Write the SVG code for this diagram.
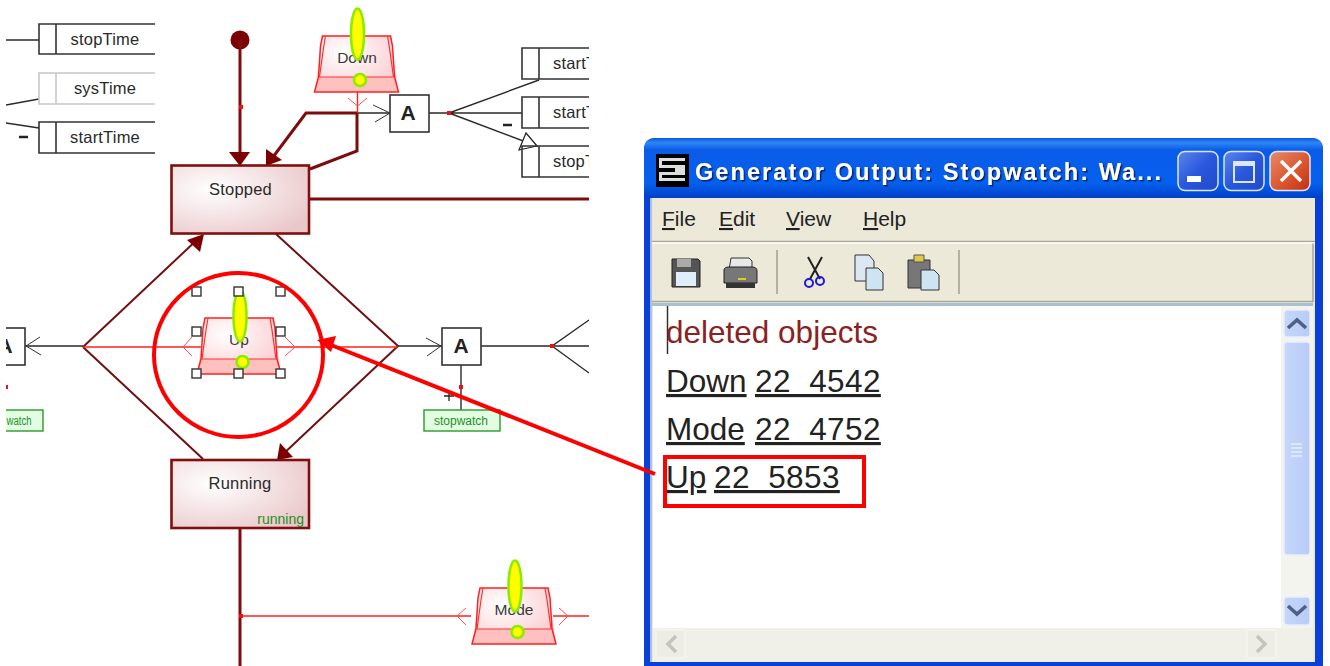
<svg xmlns="http://www.w3.org/2000/svg" width="1330" height="666" viewBox="0 0 1330 666">
<style>
text{font-family:"Liberation Sans",Arial,sans-serif;white-space:pre}
.lbl{font-size:16.5px;fill:#2a2a2a;text-anchor:middle;letter-spacing:.2px}
.tr{font-size:15.5px;fill:#3a3a3a;text-anchor:middle}
.box{fill:none;stroke:#333;stroke-width:1.6}
.gry{fill:none;stroke:#c8c8c8;stroke-width:1.6}
.wire{fill:none;stroke:#2a2a2a;stroke-width:1.4}
.tip{fill:none;stroke:#333;stroke-width:1}
.red{fill:none;stroke:#ff2020;stroke-width:1.4}
.rtip{fill:none;stroke:#ff5050;stroke-width:1}
.dk{fill:none;stroke:#7f0c0c;stroke-width:3}
.dk2{fill:none;stroke:#701010;stroke-width:2}
.head{fill:#7c0000;stroke:none}
.state{fill:url(#st);stroke:#800f0f;stroke-width:2.6}
.a{font-size:21px;font-weight:bold;fill:#222;text-anchor:middle}
.abox{fill:#fff;stroke:#333;stroke-width:1.6}
.tag{fill:#e2fde2;stroke:#2a9a2a;stroke-width:1.4}
.tagt{font-size:12px;fill:#1f8f1f;text-anchor:middle}
.hd{fill:#fff;stroke:#333;stroke-width:1.4}
.menu{font-size:21px;fill:#222}
.out{font-size:31.5px;fill:#222}
.num{letter-spacing:.4px}
.u{text-decoration:underline}
.sb{fill:url(#sb);stroke:#e8eefc;stroke-width:1.5}
.ch{fill:none;stroke:#4d6185;stroke-width:3.6}
.sep{stroke:#b5b19e;stroke-width:2}
.ann{fill:none;stroke:#ff0000;stroke-width:4}
</style>
<defs>
<radialGradient id="st" cx=".3" cy=".35" r=".8"><stop offset="0" stop-color="#fff"/><stop offset="1" stop-color="#eac8ca"/></radialGradient>
<radialGradient id="tg" cx=".35" cy=".3" r=".8"><stop offset="0" stop-color="#fff"/><stop offset="1" stop-color="#fbc8cc"/></radialGradient>
<linearGradient id="ti" x1="0" y1="0" x2="0" y2="1"><stop offset="0" stop-color="#0a58e0"/><stop offset=".08" stop-color="#2f86f4"/><stop offset=".2" stop-color="#0a5ce8"/><stop offset=".75" stop-color="#0560ee"/><stop offset="1" stop-color="#0040c8"/></linearGradient>
<linearGradient id="bn" x1="0" y1="0" x2="1" y2="1"><stop offset="0" stop-color="#5b86ec"/><stop offset=".5" stop-color="#2a58dc"/><stop offset="1" stop-color="#1f49c8"/></linearGradient>
<linearGradient id="cl" x1="0" y1="0" x2="1" y2="1"><stop offset="0" stop-color="#e98a68"/><stop offset=".6" stop-color="#d9532c"/><stop offset="1" stop-color="#c03010"/></linearGradient>
<linearGradient id="sb" x1="0" y1="0" x2="1" y2="0"><stop offset="0" stop-color="#c6d6fb"/><stop offset="1" stop-color="#b8ccf8"/></linearGradient>
<filter id="sh" x="-5%" y="-20%" width="110%" height="140%"><feDropShadow dx="1.5" dy="1.5" stdDeviation=".5" flood-color="#0a246a"/></filter>
<clipPath id="crop"><rect x="6" y="0" width="583" height="666"/></clipPath>
<g id="trap">
<path d="M-34 0H34L42 56H-42Z" fill="url(#tg)"/>
<path d="M-38 41H38L42 56H-42Z" fill="#ffc0c0"/>
<path d="M-34 0H34L36 10L38 41L42 56H-42L-38 41L-36 10Z" fill="none" stroke="#ff2020" stroke-width="1.5"/>
<path d="M-31 0L-33 12L-37 41M31 0L33 12L37 41M-38 41H38" fill="none" stroke="#ff3030" stroke-width="1.2"/>
</g>
<g id="flag">
<ellipse cx="1" cy="-2" rx="6.5" ry="25.5" fill="#ffff00" stroke="#8cec00" stroke-width="2.6"/>
<circle cx="3.5" cy="44" r="6" fill="#ffff00" stroke="#8cec00" stroke-width="2.6"/>
</g>
<path id="dot" d="M-2-2h4v4h-4z" fill="#ee1010"/>
</defs>
<rect width="1330" height="666" fill="#fff"/>

<g clip-path="url(#crop)">
<g id="connectors">
<path class="wire" d="M6 40H39M6 105L39 99M6 123L39 128"/>
<path class="wire" d="M357 113H389M429 113H449L539 80M449 113H522M449 113L526 142"/>
<path class="tip" d="M373 105L390 113L375 122"/>
<path d="M526 133L537 146L519 150Z" fill="#fff" stroke="#222" stroke-width="1.2"/>
<path class="red" d="M357.500 92V113"/><path class="rtip" d="M348 98L357.500 106L367 98"/>
<circle cx="240" cy="40" r="9.500" fill="#7c0000"/>
<path class="dk" d="M240 40V155"/>
<path class="head" d="M229 152H250L240 166Z"/>
<path class="dk" d="M357 113H306L270 161M310 169L357 151V113"/>
<path class="head" d="M266 166L266 149L282 160Z"/>
<path class="dk" d="M309 199H589"/>
<path class="dk2" d="M83 347L200 237M83 347L203 459M276 234L398 346L280 457"/>
<path class="head" d="M204 234L187 240L200 252Z"/>
<path class="head" d="M277 460L280 443L293 457Z"/>
<path class="wire" d="M25 346H83M398 346H442M481 346H552L589 320M552 346H589M552 346L589 373M461 365V410"/>
<path class="tip" d="M40 337L26 346L41 355M426 338L441 346L427 356"/>
<path class="red" d="M83 347H398"/>
<path class="rtip" d="M192 337L183 347L192 356M285 337L295 347L285 356"/>
<path class="dk" stroke-width="2.500" d="M240 528V666"/>
<path class="red" d="M240 616H471M553 616H589"/><path class="rtip" d="M466 608L457 616L466 625M559 608L568 616L559 625"/>
<use href="#dot" x="449" y="113"/><use href="#dot" x="552" y="346"/><use href="#dot" x="461" y="387"/><use href="#dot" x="241" y="616"/><use href="#dot" x="6" y="387"/><use href="#dot" x="241" y="107"/>
<path d="M19 137h9M503 125h9" stroke="#222" stroke-width="2.500"/>
<path d="M444 396h10M449 391v10" stroke="#222" stroke-width="1.300"/>
</g>
<g id="n-stopTime"><path class="box" d="M155 24H39V54H155M56 24V54"/><text class="lbl" x="105" y="45">stopTime</text></g>
<g id="n-sysTime"><path class="gry" d="M155 73H39V104H155M56 73V104"/><text class="lbl" x="105" y="94">sysTime</text></g>
<g id="n-startTime"><path class="box" d="M155 122H39V153H155M56 122V153"/><text class="lbl" x="105" y="143">startTime</text></g>
<g id="n-start1"><path class="box" d="M589 48H522V79H589M539 48V79"/><text class="lbl" x="553" y="69" style="text-anchor:start">startTime</text></g>
<g id="n-start2"><path class="box" d="M589 97H522V128H589M539 97V128"/><text class="lbl" x="553" y="118" style="text-anchor:start">startTime</text></g>
<g id="n-stop"><path class="box" d="M589 146H522V177H589M539 146V177"/><text class="lbl" x="553" y="167" style="text-anchor:start">stopTime</text></g>
<g id="n-A1"><rect class="abox" x="390" y="95" width="39" height="37"/><text class="a" x="408" y="120">A</text></g>
<g id="n-A2"><rect class="abox" x="442" y="328" width="39" height="37"/><text class="a" x="461" y="353">A</text></g>
<g id="n-A3"><rect class="abox" x="-14" y="328" width="39" height="37"/><text class="a" x="5" y="353">A</text></g>
<g id="n-tag2"><rect class="tag" x="424" y="410" width="76" height="21"/><text class="tagt" x="461" y="425">stopwatch</text></g>
<g id="n-tag1"><rect class="tag" x="-33" y="410" width="76" height="21"/><text class="tagt" x="6.500" y="425" textLength="25" lengthAdjust="spacingAndGlyphs" style="text-anchor:start">watch</text></g>
<g id="n-Stopped"><rect class="state" x="171.500" y="165.500" width="137.500" height="68"/><text class="lbl" x="240.500" y="195">Stopped</text></g>
<g id="n-Running"><rect class="state" x="171.500" y="460" width="137.500" height="68"/><text class="lbl" x="240" y="489">Running</text><text x="304" y="524" style="font-size:14px;fill:#1f8f1f;text-anchor:end">running</text></g>
<g id="n-Down"><use href="#trap" x="356.500" y="36"/><text class="tr" x="357" y="63">Down</text><use href="#flag" x="356.500" y="36"/></g>
<g id="n-Up"><use href="#trap" x="239" y="318"/><text class="tr" x="239" y="345">Up</text><use href="#flag" x="239" y="318"/>
<rect class="hd" x="192" y="287" width="9" height="9"/><rect class="hd" x="234" y="287" width="9" height="9"/><rect class="hd" x="276" y="287" width="9" height="9"/>
<rect class="hd" x="192" y="327" width="9" height="9"/><rect class="hd" x="276" y="327" width="9" height="9"/>
<rect class="hd" x="192" y="369" width="9" height="9"/><rect class="hd" x="234" y="369" width="9" height="9"/><rect class="hd" x="276" y="369" width="9" height="9"/></g>
<g id="n-Mode"><use href="#trap" x="514" y="588"/><text class="tr" x="514" y="615">Mode</text><use href="#flag" x="514" y="588"/></g>
</g>

<g id="window">
<path d="M644 666V150Q644 138 656 138H1311Q1323 138 1323 150V666Z" fill="#0a3fd8"/>
<path d="M644 198V150Q644 138 656 138H1311Q1323 138 1323 150V198Z" fill="url(#ti)"/>
<rect x="651" y="198" width="664" height="464" fill="#ece9d8"/>
<path d="M651 198V662" stroke="#a8c0ee" stroke-width="2"/>
<path d="M652 241.500H1315" stroke="#aca899" stroke-width="1.500"/><path d="M652 243H1315" stroke="#fff" stroke-width="1.500"/>
<path d="M652 301.500H1313V243.500" fill="none" stroke="#aca899" stroke-width="1.500"/>
<rect x="652" y="303" width="661" height="3" fill="#a9bfd2"/>
<rect x="653" y="306" width="628" height="322" fill="#fff"/>
<rect x="1281" y="306" width="32" height="356" fill="#f4f4ee"/>
<rect x="653" y="628" width="660" height="34" fill="#f1f0e8"/>
<path d="M656 154h33v33h-33z" fill="#000"/>
<path d="M659 158h26v3h-26zM659 165h26v3h-26zM675 165h10v8h-10zM659 172h26v3h-26zM659 178h26v3h-26zM659 158h3v10h-3zM659 172h3v9h-3z" fill="#ddd"/>
<text x="695" y="180" textLength="466" lengthAdjust="spacing" filter="url(#sh)" style="font-size:23.500px;font-weight:bold;fill:#fff">Generator Output: Stopwatch: Wa...</text>
<rect x="1178" y="151.500" width="40" height="39" rx="7" fill="url(#bn)" stroke="#dbe5fb" stroke-width="1.500"/>
<rect x="1187" y="176" width="14" height="6" fill="#fff"/>
<rect x="1224" y="151.500" width="40" height="39" rx="7" fill="url(#bn)" stroke="#dbe5fb" stroke-width="1.500"/>
<rect x="1234" y="162" width="20" height="20" fill="none" stroke="#dbe5fb" stroke-width="2"/><rect x="1233" y="161" width="22" height="5" fill="#dbe5fb"/>
<rect x="1270" y="151.500" width="40" height="39" rx="7" fill="url(#cl)" stroke="#dbe5fb" stroke-width="1.500"/>
<path d="M1281 161L1301 181M1301 161L1281 181" stroke="#fff" stroke-width="3.500"/>
<text class="menu" x="662" y="226"><tspan class="u">F</tspan>ile</text>
<text class="menu" x="719" y="226"><tspan class="u">E</tspan>dit</text>
<text class="menu" x="786" y="226"><tspan class="u">V</tspan>iew</text>
<text class="menu" x="863" y="226"><tspan class="u">H</tspan>elp</text>
<path d="M672 259h26l2 2v26h-28z" fill="#555" stroke="#222"/><path d="M677 259h14v8h-14z" fill="#aaa"/><path d="M676 272h20v14h-20z" fill="#dfeefa"/>
<path d="M731 258h18l3 3v9h-23z" fill="#e8e8e8" stroke="#333"/><path d="M724 270q0-3 5-3h23q5 0 5 4v12h-33z" fill="#777" stroke="#222"/><path d="M726 283h29v5h-29z" fill="#333"/><path d="M738 278h8v2h-8z" fill="#dc2"/>
<path class="sep" d="M777 250V294M959 250V294"/>
<path d="M808 257L820 279M822 257L810 279" stroke="#222" stroke-width="2" fill="none"/>
<circle cx="809" cy="283" r="4" fill="none" stroke="#1a1ad8" stroke-width="2"/><circle cx="820" cy="281" r="4" fill="none" stroke="#1a1ad8" stroke-width="2"/>
<path d="M855 255h14l5 6v20h-19z" fill="#dbe7f2" stroke="#333"/><path d="M866 268h12l5 5v17h-17z" fill="#cfe4f3" stroke="#333"/>
<path d="M908 260h22v28h-22z" fill="#777" stroke="#333"/><path d="M914 255h10v7h-10z" fill="#ddc94a" stroke="#555"/><path d="M921 270h13l5 5v15h-18z" fill="#cfe4f3" stroke="#333"/>
<path d="M667.500 306V354" stroke="#333" stroke-width="1.500"/>
<text x="666" y="343" style="font-size:31.500px;fill:#8b2222">deleted objects</text>
<text class="out u" x="666" y="392">Down</text><text class="out u num" x="755" y="392">22  4542</text>
<text class="out u" x="666" y="440">Mode</text><text class="out u num" x="755" y="440">22  4752</text>
<text class="out u" x="666" y="488">Up</text><text class="out u num" x="714" y="488">22  5853</text>
<rect class="sb" x="1284" y="310" width="26" height="27" rx="3"/><path class="ch" d="M1288 328L1297 320L1306 328"/>
<rect class="sb" x="1284" y="342" width="26" height="213" rx="3"/><path d="M1291 444h11M1291 448h11M1291 452h11M1291 456h11" stroke="#e6eeff" stroke-width="1.500"/>
<rect class="sb" x="1284" y="597" width="26" height="28" rx="3"/><path class="ch" d="M1288 606L1297 614L1306 606"/>
<rect x="656" y="630" width="29" height="28" rx="2" fill="#eeede5" stroke="#f8f8f4"/><path d="M676 636L668 644L676 652" fill="none" stroke="#c4c4bc" stroke-width="3.500"/>
<rect x="1247" y="630" width="29" height="28" rx="2" fill="#eeede5" stroke="#f8f8f4"/><path d="M1257 636L1265 644L1257 652" fill="none" stroke="#c4c4bc" stroke-width="3.500"/>
</g>

<g id="annotations">
<ellipse class="ann" cx="238.500" cy="355" rx="84.500" ry="82"/>
<rect class="ann" x="665" y="457" width="199" height="49"/>
<path d="M655 474L326 343" fill="none" stroke="#ff0000" stroke-width="4"/>
<path d="M317 340L336 336L331 352Z" fill="#ff0000"/>
</g>
</svg>
